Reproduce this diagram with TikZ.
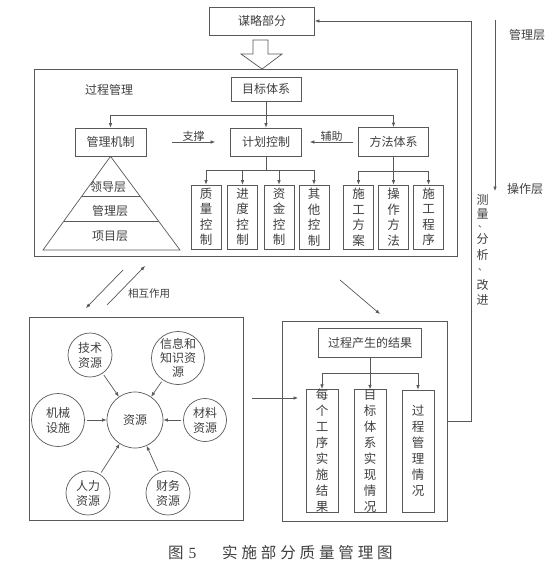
\documentclass[tikz,border=0pt]{standalone}
\usepackage{fontspec}
\setmainfont{Liberation Serif}
\newfontfamily\cjk{Noto Sans CJK SC}
\newfontfamily\capcjk[LetterSpace=25]{Noto Sans CJK SC}
\usetikzlibrary{arrows.meta,calc}
\definecolor{txt}{gray}{0.25}
\definecolor{lnc}{gray}{0.35}
\begin{document}
\begin{tikzpicture}[x=1pt,y=-1pt,
  every node/.style={font=\cjk\fontsize{12}{14}\selectfont, text=txt, inner sep=0pt},
  ln/.style={draw=lnc, line width=0.7pt},
  arr/.style={ln, -{Latex[length=4.5pt,width=3.6pt]}},
  bx/.style={ln, rectangle},
  colbox/.style={bx, minimum width=30pt, minimum height=64pt, align=center, font=\cjk\fontsize{12.5}{15.5}\selectfont},
  rcol/.style={bx, minimum width=32pt, minimum height=122pt, align=center, font=\cjk\fontsize{12.5}{16}\selectfont},
  res/.style={ln, circle, align=center, font=\cjk\fontsize{12}{15}\selectfont},
  lbl/.style={font=\cjk\fontsize{11}{13}\selectfont},
  vch/.style={font=\cjk\fontsize{12}{13}\selectfont},
  vdot/.style={font=\cjk\fontsize{9}{10}\selectfont}
]
\useasboundingbox (0,0) rectangle (558,568);
\fill[white] (0,0) rectangle (558,568);

% top strategy box and hollow arrow
\node[bx, minimum width=105pt, minimum height=28pt] (mou) at (262,21) {谋略部分};
\draw[ln, fill=white] (253,40) -- (268,40) -- (268,54) -- (282,54) -- (262,69) -- (241,54) -- (253,54) -- cycle;

% process management frame
\node[bx, minimum width=423pt, minimum height=187pt] (procbox) at (245.5,162.5) {};
\node (gclabel) at (109,90) {过程管理};

\node[bx, minimum width=70pt, minimum height=24pt] (mubiao) at (266,89) {目标体系};
\node[bx, minimum width=71pt, minimum height=28pt] (guanli) at (110.5,142) {管理机制};
\node[bx, minimum width=71pt, minimum height=28pt] (jihua) at (266,142) {计划控制};
\node[bx, minimum width=70pt, minimum height=29pt] (fangfa) at (393.5,142) {方法体系};

\coordinate (b1) at (266,115);
\draw[arr] (mubiao.south) -- (jihua.north);
\draw[arr] (b1) -| (guanli.north);
\draw[arr] (b1) -| (fangfa.north);

\draw[arr, shorten <=26pt, shorten >=15pt] (guanli.east) -- (jihua.west);
\node[lbl] (zhicheng) at (193.5,136) {支撑};
\draw[arr, shorten <=5pt, shorten >=8pt] (fangfa.west) -- (jihua.east);
\node[lbl] (fuzhu) at (331.5,136) {辅助};

% plan control children
\node[colbox] (c1) at (206,217) {质\\量\\控\\制};
\node[colbox] (c2) at (242.5,217) {进\\度\\控\\制};
\node[colbox] (c3) at (279,217) {资\\金\\控\\制};
\node[colbox] (c4) at (314,217) {其\\他\\控\\制};
\coordinate (b2) at (266,170);
\draw[ln] (jihua.south) -- (b2);
\foreach \c in {c1,c2,c3,c4} \draw[arr] (b2) -| (\c.north);

% method system children
\node[colbox] (m1) at (358.5,217) {施\\工\\方\\案};
\node[colbox] (m2) at (393.5,217) {操\\作\\方\\法};
\node[colbox] (m3) at (428.5,217) {施\\工\\程\\序};
\coordinate (b3) at (393.5,171);
\draw[ln] (fangfa.south) -- (b3);
\foreach \c in {m1,m2,m3} \draw[arr] (b3) -| (\c.north);

% pyramid
\coordinate (pl) at (43,250);
\coordinate (pr) at (180,250);
\draw[ln] (guanli.south) -- (pl) -- (pr) -- cycle;
\draw[ln] ($(guanli.south)!0.4255!(pl)$) -- ($(guanli.south)!0.4255!(pr)$);
\draw[ln] ($(guanli.south)!0.6915!(pl)$) -- ($(guanli.south)!0.6915!(pr)$);
\node (ld) at (108,187) {领导层};
\node (glc) at (110,211) {管理层};
\node (xm) at (110,236) {项目层};

% interaction arrows
\coordinate (ia1) at (123,270);
\coordinate (ia2) at (86,308);
\coordinate (ib1) at (107,305);
\coordinate (ib2) at (145,266);
\draw[arr] (ia1) -- (ia2);
\draw[arr] (ib1) -- (ib2);
\node[font=\cjk\fontsize{10.5}{12}\selectfont] (xh) at (149,294) {相互作用};

% diagonal arrow to results
\coordinate (d1) at (340,280);
\coordinate (d2) at (380,314);
\draw[arr] (d1) -- (d2);

% resources
\node[bx, minimum width=214pt, minimum height=203pt] (resbox) at (136,418.5) {};
\node[res, minimum size=56pt] (ziyuan) at (135,420) {资源};
\node[res, minimum size=44pt] (jishu) at (90,355) {技术\\资源};
\node[res, minimum size=52pt, font=\cjk\fontsize{12}{14}\selectfont] (xinxi) at (178,358) {信息和\\知识资\\源};
\node[res, minimum size=53pt] (jixie) at (58,420) {机械\\设施};
\node[res, minimum size=43pt] (cailiao) at (205,420) {材料\\资源};
\node[res, minimum size=44pt] (renli) at (88,493) {人力\\资源};
\node[res, minimum size=44pt] (caiwu) at (168,493) {财务\\资源};
\foreach \c in {jishu,xinxi,jixie,cailiao,renli,caiwu}
  \draw[arr, shorten <=2pt] (\c) -- (ziyuan);

% arrow resources -> results
\coordinate (h1) at (252,398);
\coordinate (h2) at (298,398);
\draw[arr] (h1) -- (h2);

% results
\node[bx, minimum width=165pt, minimum height=200pt] (results) at (364.5,421) {};
\node[bx, minimum width=103pt, minimum height=29pt] (guocheng) at (370,342.5) {过程产生的结果};
\node[rcol] (r1) at (322,451) {每\\个\\工\\序\\实\\施\\结\\果};
\node[rcol] (r2) at (370,451) {目\\标\\体\\系\\实\\现\\情\\况};
\node[rcol] (r3) at (418,451) {过\\程\\管\\理\\情\\况};
\coordinate (b4) at (370,373);
\draw[arr] (guocheng.south) -- (r2.north);
\draw[arr] (b4) -| (r1.north);
\draw[arr] (b4) -| (r3.north);

% feedback loop
\coordinate (fbc) at (471,421);
\draw[arr] (results.east) -- (fbc) |- (mou.east);

% right side levels
\coordinate (rt) at (495,20);
\coordinate (rb) at (495,191);
\draw[arr] (rt) -- (rb);
\node (glceng) at (527,35) {管理层};
\node (czceng) at (525,189) {操作层};

% measure, analyse, improve (vertical)
\node[vch] (v1) at (482.5,200) {测};
\node[vch] (v2) at (482.5,214) {量};
\node[vdot] (v3) at (482.5,227) {、};
\node[vch] (v4) at (482.5,239) {分};
\node[vch] (v5) at (482.5,255) {析};
\node[vdot] (v6) at (482.5,270) {、};
\node[vch] (v7) at (482.5,285) {改};
\node[vch] (v8) at (482.5,300) {进};

% caption
\node[anchor=west, font=\fontsize{15.5}{17}\selectfont] (cap1) at (168,553) {{\cjk 图}\hspace{5pt}5};
\node[anchor=west, font=\capcjk\fontsize{15.5}{17}\selectfont] (cap2) at (222,553) {实施部分质量管理图};
\end{tikzpicture}
\end{document}
